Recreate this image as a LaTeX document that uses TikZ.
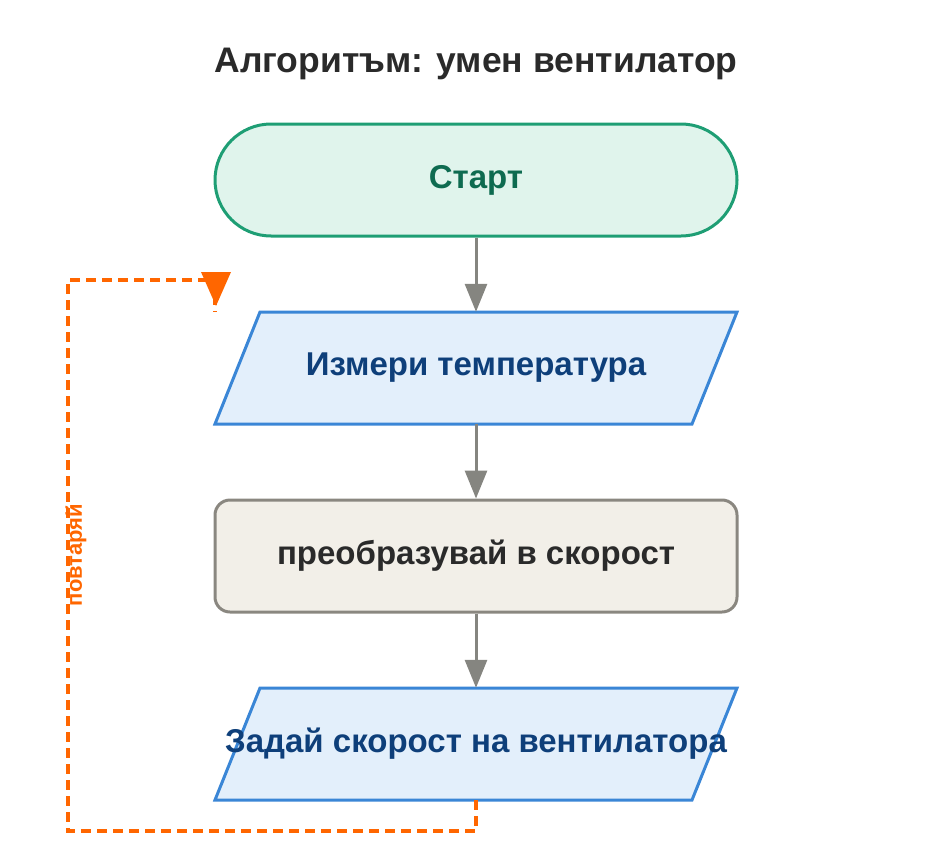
\documentclass[tikz,border=0pt]{standalone}
\usepackage{fontspec}
\setmainfont{Liberation Sans}
\usetikzlibrary{arrows.meta}
\definecolor{sfill}{HTML}{E0F4EC}\definecolor{sdraw}{HTML}{1E9E74}\definecolor{stext}{HTML}{0E6B50}
\definecolor{pfill}{HTML}{E3EFFB}\definecolor{pdraw}{HTML}{3A86D6}\definecolor{ptext}{HTML}{0E3F7A}
\definecolor{rfill}{HTML}{F2EFE8}\definecolor{rdraw}{HTML}{8A8780}\definecolor{rtext}{HTML}{2A2A2A}
\definecolor{arr}{HTML}{858580}\definecolor{orng}{HTML}{FF6600}
\begin{document}
\begin{tikzpicture}[x=1pt,y=-1pt,
 txt/.style={font=\fontsize{33}{36}\selectfont\bfseries},
 term/.style={draw=sdraw,fill=sfill,line width=3pt,rounded corners=56pt,minimum width=522pt,minimum height=112pt,text=stext,txt},
 iobox/.style={draw=pdraw,fill=pfill,line width=3pt,line join=miter},
 iotxt/.style={text=ptext,txt},
 proc/.style={draw=rdraw,fill=rfill,line width=3pt,rounded corners=15pt,minimum width=522pt,minimum height=112pt,text=rtext,txt},
 flow/.style={draw=arr,line width=3pt,-{Triangle[length=28pt,width=22pt]}}]
\useasboundingbox (0,0) rectangle (952,864);
\node[font=\fontsize{35.5}{38}\selectfont\bfseries,text=rtext] (title) at (476,64) {Алгоритъм: умен вентилатор};
\node[term] (s) at (476,180) {Старт};
\filldraw[iobox] (260,312) -- (737,312) -- (692,424) -- (215,424) -- cycle;
\node[iotxt,minimum width=522pt,minimum height=112pt] (m) at (476,368) {Измери температура};
\node[proc] (p) at (476,556) {преобразувай в скорост};
\filldraw[iobox] (260,688) -- (737,688) -- (692,800) -- (215,800) -- cycle;
\node[iotxt,minimum width=522pt,minimum height=112pt,inner sep=0pt] (z) at (476,744) {Задай скорост на вентилатора};
\draw[flow] (s) -- (m);
\draw[flow] (m) -- (p);
\draw[flow] (p) -- (z);
\coordinate (a) at (476,831);\coordinate (b) at (68,831);\coordinate (c) at (68,280);\coordinate (d) at (215,280);\coordinate (e) at (215,312);
\draw[orng,line width=3.5pt,dash pattern=on 10pt off 6pt] (z.south) -- (a) -- (b) -- (c) -- (d) -- (e);
\fill[orng] (201,272) -- (231,272) -- (216,306) -- cycle;
\node[rotate=90,text=orng,font=\fontsize{22}{24}\selectfont\bfseries] (l) at (76,555) {повтаряй};
\end{tikzpicture}
\end{document}
